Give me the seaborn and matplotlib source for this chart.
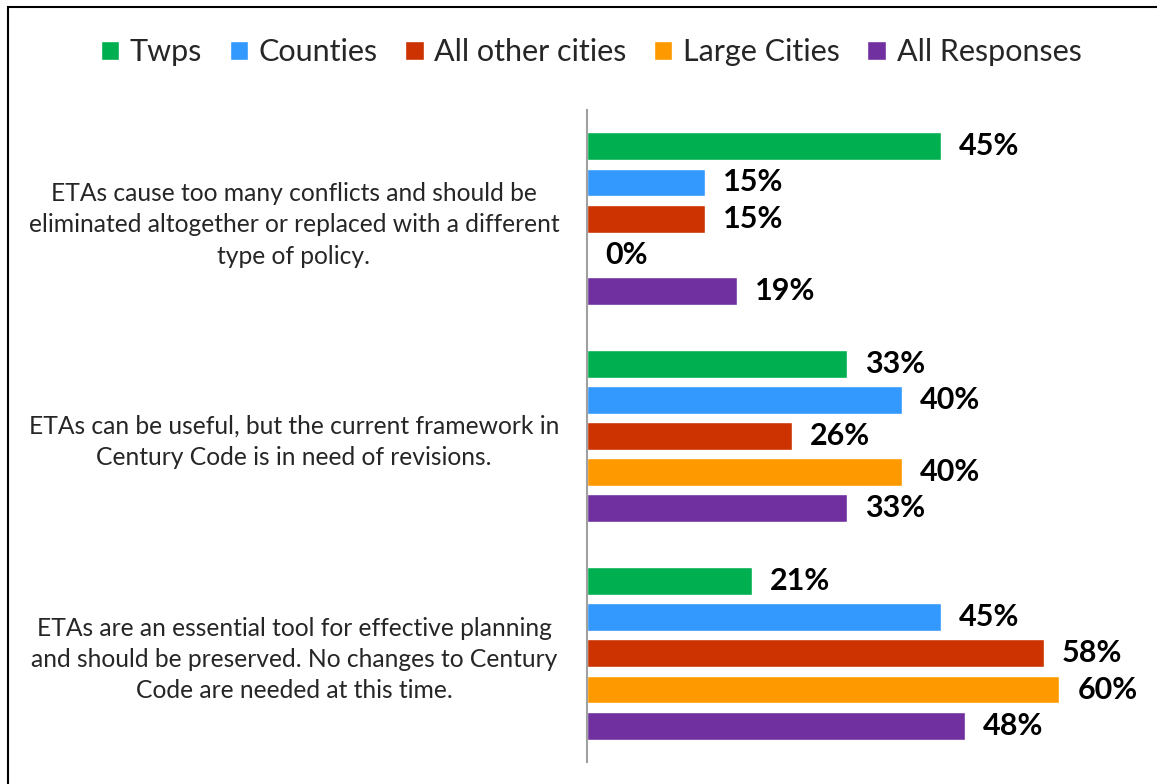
import matplotlib
matplotlib.use("Agg")
import matplotlib.pyplot as plt
import seaborn as sns
import pandas as pd
from matplotlib.patches import Rectangle

categories = [
    "ETAs cause too many conflicts and should be\neliminated altogether or replaced with a different\ntype of policy.",
    "ETAs can be useful, but the current framework in\nCentury Code is in need of revisions.",
    "ETAs are an essential tool for effective planning\nand should be preserved. No changes to Century\nCode are needed at this time.",
]
series = ["Twps", "Counties", "All other cities", "Large Cities", "All Responses"]
twps = [45, 33, 21]
counties = [15, 40, 45]
other_cities = [15, 26, 58]
large_cities = [0, 40, 60]
all_resp = [19, 33, 48]
colors = ["#00B050", "#3399FF", "#CC3300", "#FF9900", "#7030A0"]

values = [twps, counties, other_cities, large_cities, all_resp]
rows = []
for s, vals in zip(series, values):
    for c, v in zip(categories, vals):
        rows.append({"category": c, "series": s, "value": v})
df = pd.DataFrame(rows)

sns.set_theme(style="white")
plt.rcParams["font.family"] = ["Lato", "DejaVu Sans"]

W, H = 1157, 784
fig = plt.figure(figsize=(W / 100, H / 100), dpi=100)
ax = fig.add_axes([587 / W, 1 - 762 / H, 551 / W, 652 / H])

sns.barplot(data=df, y="category", x="value", hue="series", order=categories,
            hue_order=series, palette=colors, orient="h", width=0.833, gap=0.23,
            ax=ax, legend=True, saturation=1)

for cont in ax.containers:
    ax.bar_label(cont, fmt="%.0f%%", padding=13, fontsize=22, fontweight="bold",
                 color="black")

ax.set_xlim(0, 70)
ax.set_ylim(2.5, -0.5)
ax.set_xlabel("")
ax.set_ylabel("")
ax.set_xticks([])
for sp in ["top", "right", "bottom"]:
    ax.spines[sp].set_visible(False)
ax.spines["left"].set_color("#A0A0A0")
ax.spines["left"].set_linewidth(1.5)
ax.tick_params(axis="y", length=0, pad=211, labelsize=17.7)
for lab in ax.get_yticklabels():
    lab.set_ha("center")
    lab.set_multialignment("center")
    lab.set_linespacing(1.44)

leg = ax.legend(loc="center", bbox_to_anchor=(591 / W, 1 - 52 / H),
                bbox_transform=fig.transFigure, ncol=5, frameon=False,
                fontsize=22, handlelength=0.6, handleheight=0.6,
                handletextpad=0.35, columnspacing=0.9)

fig.patches.append(Rectangle((8 / W, -0.05), 1.2, 1.05 - 7 / H + 0.0,
                             transform=fig.transFigure, fill=False,
                             edgecolor="black", linewidth=1.5))

fig.savefig("out.png", dpi=100)
